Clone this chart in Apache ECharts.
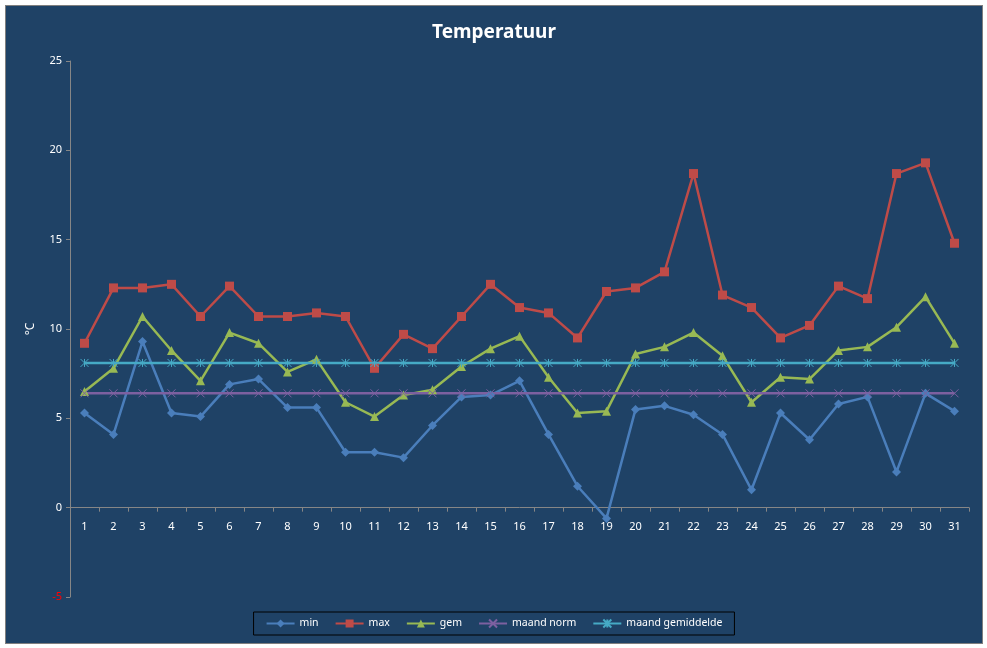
<!DOCTYPE html>
<html>
<head>
    <meta charset="utf-8" />
    <title>Temperatuur</title>
    <style>
        html, body { margin: 0; padding: 0; background: #fff; }
        #chart {
            position: absolute;
            left: 5px; top: 5px;
            width: 976px; height: 637px;
            border: 1px solid #7f7f7f;
            background: #1f4266;
        }
    </style>
</head>
<body>
    <div id="chart"></div>
    <script src="https://cdn.jsdelivr.net/npm/echarts@6/dist/echarts.min.js"></script>
    <script>
        // dagen van de maand
        var days = [];
        for (var d = 1; d <= 31; d++) days.push(String(d));

        var minTemp = [5.3, 4.1, 9.3, 5.3, 5.1, 6.9, 7.2, 5.6, 5.6, 3.1, 3.1, 2.8, 4.6, 6.2, 6.3, 7.1,
            4.1, 1.2, -0.6, 5.5, 5.7, 5.2, 4.1, 1.0, 5.3, 3.8, 5.8, 6.2, 2.0, 6.4, 5.4];
        var maxTemp = [9.2, 12.3, 12.3, 12.5, 10.7, 12.4, 10.7, 10.7, 10.9, 10.7, 7.8, 9.7, 8.9, 10.7, 12.5, 11.2,
            10.9, 9.5, 12.1, 12.3, 13.2, 18.7, 11.9, 11.2, 9.5, 10.2, 12.4, 11.7, 18.7, 19.3, 14.8];
        var gemTemp = [6.5, 7.8, 10.7, 8.8, 7.1, 9.8, 9.2, 7.6, 8.3, 5.9, 5.1, 6.3, 6.6, 7.9, 8.9, 9.6,
            7.3, 5.3, 5.4, 8.6, 9.0, 9.8, 8.5, 5.9, 7.3, 7.2, 8.8, 9.0, 10.1, 11.8, 9.2];
        var maandNorm = days.map(function () { return 6.4; });
        var maandGem = days.map(function () { return 8.1; });

        var seriesNames = ['min', 'max', 'gem', 'maand norm', 'maand gemiddelde'];
        var colors = ['#4a7ebb', '#be4b48', '#98b954', '#7d60a0', '#46aac5'];

        // symbolen
        var crossPath = 'path://M0,0L10,10M10,0L0,10';
        var starPath = 'path://M0,0L10,10M10,0L0,10M5,0L5,10';

        function makeLine(name, data, symbol, size, color, lineSym) {
            return {
                name: name,
                type: 'line',
                data: data,
                symbol: symbol,
                symbolSize: size,
                lineStyle: { width: 2.5, color: color },
                itemStyle: lineSym ? { color: 'none', borderColor: color, borderWidth: 1 } : { color: color },
                emphasis: { disabled: true }
            };
        }

        var chart = echarts.init(document.getElementById('chart'));
        chart.setOption({
            animation: false,
            color: colors,
            textStyle: { fontFamily: '"Noto Sans", sans-serif' },
            title: {
                text: 'Temperatuur',
                left: 'center',
                top: 12,
                textStyle: { color: '#fff', fontSize: 19, fontWeight: 'bold' }
            },
            legend: {
                bottom: 8,
                left: 'center',
                data: seriesNames,
                borderColor: '#000',
                borderWidth: 1,
                padding: [5, 12],
                itemGap: 16,
                itemWidth: 28,
                itemHeight: 10,
                textStyle: { color: '#fff', fontSize: 10.5 }
            },
            grid: { left: 64, right: 13, top: 55, bottom: 46, containLabel: false },
            xAxis: {
                type: 'category',
                data: days,
                boundaryGap: true,
                axisLine: { onZero: true, lineStyle: { color: '#868686' } },
                axisTick: { show: true, length: 4, lineStyle: { color: '#868686' } },
                // labels direct onder de nullijn
                axisLabel: { color: '#fff', fontSize: 11, margin: -76 }
            },
            yAxis: {
                type: 'value',
                min: -5,
                max: 25,
                interval: 5,
                name: '°C',
                nameLocation: 'middle',
                nameGap: 33,
                nameRotate: 90,
                nameTextStyle: { color: '#fff', fontSize: 12 },
                splitLine: { show: false },
                axisLine: { show: true, lineStyle: { color: '#868686' } },
                axisTick: { show: true, length: 4, lineStyle: { color: '#868686' } },
                axisLabel: {
                    fontSize: 11,
                    margin: 8,
                    color: function (v) { return Number(v) < 0 ? '#ff0000' : '#fff'; }
                }
            },
            series: [
                makeLine('min', minTemp, 'diamond', 9, colors[0]),
                makeLine('max', maxTemp, 'rect', 9, colors[1]),
                makeLine('gem', gemTemp, 'triangle', 9, colors[2]),
                makeLine('maand norm', maandNorm, crossPath, 8, colors[3], true),
                makeLine('maand gemiddelde', maandGem, starPath, 8, colors[4], true)
            ]
        });
    </script>
</body>
</html>
